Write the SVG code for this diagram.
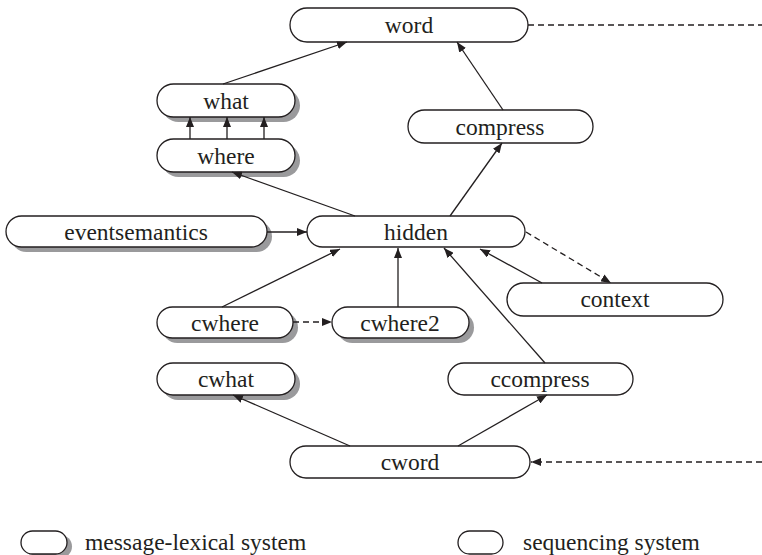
<svg xmlns="http://www.w3.org/2000/svg" width="762" height="555" viewBox="0 0 762 555">
<style>
.box{fill:#fff;stroke:#231f20;stroke-width:1.3}
.sh{fill:#9a9a9c;stroke:none}
.t{font-family:'Tinos','Times New Roman','Nimbus Roman','Noto Serif','DejaVu Serif',serif;font-size:23.5px;fill:#231f20;text-anchor:middle}
.lt{font-family:'Tinos','Times New Roman','Nimbus Roman','Noto Serif','DejaVu Serif',serif;font-size:23.5px;fill:#231f20}
.c{stroke:#231f20;stroke-width:1.3;fill:none}
.d{stroke:#231f20;stroke-width:1.3;fill:none;stroke-dasharray:6 4}
.a{marker-end:url(#ah)}
</style>
<defs>
<marker id="ah" markerUnits="userSpaceOnUse" markerWidth="11" markerHeight="8" refX="10" refY="4" orient="auto">
<path d="M0,0 L10,4 L0,8 z" fill="#231f20"/>
</marker>
</defs>
<rect width="762" height="555" fill="#fff"/>
<g id="word"><rect class="box" x="290" y="8" width="238" height="34" rx="17"/><text class="t" x="409" y="33">word</text></g>
<g id="what"><rect class="sh" x="162" y="89" width="138" height="33" rx="16.5"/><rect class="box" x="157" y="84" width="138" height="33" rx="16.5"/><text class="t" x="226" y="109">what</text></g>
<g id="where"><rect class="sh" x="162" y="144" width="138" height="33" rx="16.5"/><rect class="box" x="157" y="139" width="138" height="33" rx="16.5"/><text class="t" x="226" y="164">where</text></g>
<g id="compress"><rect class="box" x="408" y="110" width="185" height="33" rx="16.5"/><text class="t" x="500" y="135">compress</text></g>
<g id="eventsemantics"><rect class="sh" x="11" y="221" width="261" height="31" rx="15.5"/><rect class="box" x="6" y="216" width="261" height="31" rx="15.5"/><text class="t" x="136" y="240">eventsemantics</text></g>
<g id="hidden"><rect class="box" x="307" y="216" width="218" height="31" rx="15.5"/><text class="t" x="416" y="240">hidden</text></g>
<g id="context"><rect class="box" x="507" y="283" width="216" height="33" rx="16.5"/><text class="t" x="615" y="307">context</text></g>
<g id="cwhere"><rect class="sh" x="162" y="312" width="136" height="31" rx="15.5"/><rect class="box" x="157" y="307" width="136" height="31" rx="15.5"/><text class="t" x="225" y="331">cwhere</text></g>
<g id="cwhere2"><rect class="sh" x="337" y="312" width="137" height="31" rx="15.5"/><rect class="box" x="332" y="307" width="137" height="31" rx="15.5"/><text class="t" x="400" y="331">cwhere2</text></g>
<g id="cwhat"><rect class="sh" x="162" y="368" width="138" height="32" rx="16"/><rect class="box" x="157" y="363" width="138" height="32" rx="16"/><text class="t" x="226" y="387">cwhat</text></g>
<g id="ccompress"><rect class="box" x="448" y="363" width="185" height="32" rx="16"/><text class="t" x="540" y="387">ccompress</text></g>
<g id="cword"><rect class="box" x="290" y="446" width="240" height="32" rx="16"/><text class="t" x="410" y="470">cword</text></g>
<g id="legend-message"><rect class="sh" x="26" y="535" width="46" height="23" rx="11.5"/><rect class="box" x="21" y="531" width="46" height="23" rx="11.5"/><text class="lt" x="85" y="550">message-lexical system</text></g>
<g id="legend-sequencing"><rect class="box" x="458" y="531" width="45" height="23" rx="11.5"/><text class="lt" x="523" y="550">sequencing system</text></g>
<g id="connectors">
<line class="c a" x1="223" y1="84" x2="347" y2="42"/>
<line class="c a" x1="190" y1="139" x2="190" y2="117"/>
<line class="c a" x1="227" y1="139" x2="227" y2="117"/>
<line class="c a" x1="264" y1="139" x2="264" y2="117"/>
<line class="c a" x1="503" y1="110" x2="457" y2="42"/>
<line class="c a" x1="450" y1="216" x2="502" y2="143"/>
<line class="c a" x1="355" y1="216" x2="232" y2="172"/>
<line class="c a" x1="267" y1="232" x2="307" y2="232"/>
<line class="c a" x1="222" y1="307" x2="340" y2="249"/>
<line class="c a" x1="398" y1="307" x2="398" y2="248"/>
<line class="c a" x1="545" y1="363" x2="444" y2="248"/>
<line class="c a" x1="542" y1="283" x2="480" y2="249"/>
<line class="d a" x1="526" y1="232" x2="611" y2="283"/>
<line class="d a" x1="293" y1="322" x2="332" y2="322"/>
<line class="c a" x1="350" y1="446" x2="233" y2="395"/>
<line class="c a" x1="458" y1="446" x2="547" y2="395"/>
<line class="d a" x1="762" y1="462" x2="531" y2="462"/>
<line class="d" x1="528" y1="25" x2="762" y2="25"/>
</g>
</svg>
